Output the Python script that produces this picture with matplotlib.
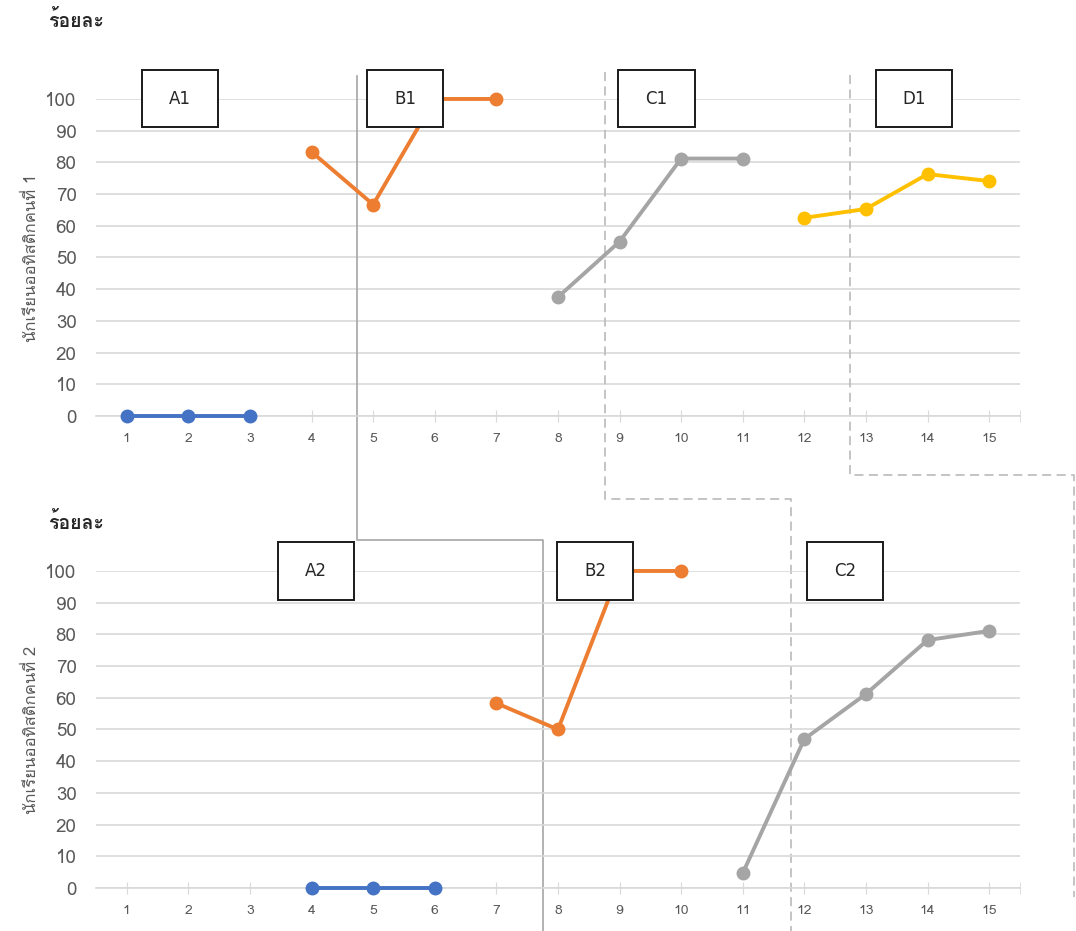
import matplotlib
matplotlib.use('Agg')
import matplotlib.pyplot as plt
from matplotlib import font_manager
from matplotlib.ft2font import FT2Font
from matplotlib.patches import Rectangle

# look for an installed family that has Thai glyphs
thai_family = 'DejaVu Sans'
for f in font_manager.fontManager.ttflist:
    try:
        if 0x0E23 in FT2Font(f.fname).get_charmap():
            thai_family = f.name
            break
    except Exception:
        pass
plt.rcParams['font.family'] = [thai_family, 'DejaVu Sans']

# Data - student 1
s1_a_x = [1, 2, 3]
s1_a_y = [0, 0, 0]
s1_b_x = [4, 5, 6, 7]
s1_b_y = [83.3, 66.7, 100, 100]
s1_c_x = [8, 9, 10, 11]
s1_c_y = [37.5, 55, 81.2, 81.2]
s1_d_x = [12, 13, 14, 15]
s1_d_y = [62.5, 65.3, 76.3, 74.1]

# Data - student 2
s2_a_x = [4, 5, 6]
s2_a_y = [0, 0, 0]
s2_b_x = [7, 8, 9, 10]
s2_b_y = [58.3, 50, 100, 100]
s2_c_x = [11, 12, 13, 14, 15]
s2_c_y = [4.7, 47, 61.2, 78.2, 81.1]

sessions = list(range(1, 16))
y_ticks = list(range(0, 101, 10))

phase_labels_1 = ['A1', 'B1', 'C1', 'D1']
phase_pos_1 = [1.86, 5.52, 9.60, 13.78]
phase_labels_2 = ['A2', 'B2', 'C2']
phase_pos_2 = [4.07, 8.60, 12.66]

blue = '#4472C4'
orange = '#ED7D31'
gray = '#A5A5A5'
yellow = '#FFC000'
grid_c = '#D9D9D9'
text_c = '#595959'

fig = plt.figure(figsize=(10.76, 9.31), dpi=100)
ax1 = fig.add_axes([0.0892, 0.5532, 0.8587, 0.3405])
ax2 = fig.add_axes([0.0892, 0.0462, 0.8587, 0.3405])


def setup(ax, ylabel):
    ax.patch.set_visible(False)
    ax.set_xlim(0.5, 15.5)
    ax.set_ylim(0, 100)
    ax.set_yticks(y_ticks)
    ax.set_xticks(sessions)
    ax.set_xticks([15.5], minor=True)
    ax.grid(axis='y', color=grid_c, lw=1.2)
    ax.set_axisbelow(True)
    for s in ['top', 'right', 'left']:
        ax.spines[s].set_visible(False)
    ax.spines['bottom'].set_color(grid_c)
    ax.spines['bottom'].set_linewidth(1.2)
    ax.tick_params(axis='y', length=0, labelsize=13.5, labelcolor=text_c, pad=14)
    ax.tick_params(axis='x', which='both', direction='inout', length=8, color=grid_c,
                   labelsize=10, labelcolor=text_c, pad=8)
    ax.set_ylabel(ylabel, fontsize=12, color=text_c, labelpad=4)


def series(ax, x, y, c):
    ax.plot(x, y, color=c, lw=2.8, marker='o', ms=9, clip_on=False, zorder=3)


def boxes(ax, labels, pos):
    for lab, p in zip(labels, pos):
        ax.add_patch(Rectangle((p - 0.618, 91), 1.236, 18, fc='white', ec='#1a1a1a',
                               lw=1.4, clip_on=False, zorder=5))
        ax.text(p, 100, lab, ha='center', va='center', fontsize=12, color='#262626',
                family='DejaVu Sans', zorder=6)


setup(ax1, 'นักเรียนออทิสติกคนที่ 1')
setup(ax2, 'นักเรียนออทิสติกคนที่ 2')

series(ax1, s1_a_x, s1_a_y, blue)
series(ax1, s1_b_x, s1_b_y, orange)
series(ax1, s1_c_x, s1_c_y, gray)
series(ax1, s1_d_x, s1_d_y, yellow)

series(ax2, s2_a_x, s2_a_y, blue)
series(ax2, s2_b_x, s2_b_y, orange)
series(ax2, s2_c_x, s2_c_y, gray)

boxes(ax1, phase_labels_1, phase_pos_1)
boxes(ax2, phase_labels_2, phase_pos_2)

# phase change lines (drawn in top panel coords, running down into lower panel)
ax1.plot([4.74, 4.74, 7.76, 7.76], [107.3, -39.1, -39.1, -162.5],
         color='#A6A6A6', lw=1.2, clip_on=False, zorder=2)
ax1.plot([8.76, 8.76, 11.78, 11.78], [108.5, -26.2, -26.2, -162.5],
         color='#BFBFBF', lw=1.3, ls=(0, (5, 3)), clip_on=False, zorder=2)
ax1.plot([12.74, 12.74, 16.37, 16.37], [107.6, -18.6, -18.6, -151.7],
         color='#BFBFBF', lw=1.3, ls=(0, (5, 3)), clip_on=False, zorder=2)

fig.text(0.045, 0.978, 'ร้อยละ', fontsize=14, fontweight='bold', color='#262626', va='center')
fig.text(0.045, 0.439, 'ร้อยละ', fontsize=14, fontweight='bold', color='#262626', va='center')

fig.savefig('out.png', dpi=100)
